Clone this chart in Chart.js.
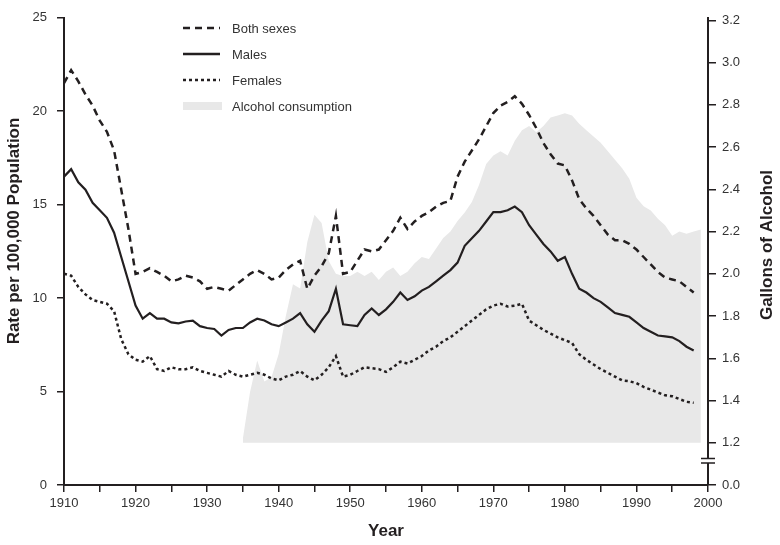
<!DOCTYPE html>
<html>
<head>
<meta charset="utf-8">
<script src="https://cdn.jsdelivr.net/npm/chart.js@4/dist/chart.umd.min.js"></script>
<style>
  html, body { margin: 0; background: #fff; }
  #wrap { width: 780px; height: 545px; }
</style>
</head>
<body>
<div id="wrap"><canvas id="chart" width="780" height="545"></canvas></div>
<script>
// rates per 100,000 population, one value per year
const rateYears = [1910,1911,1912,1913,1914,1915,1916,1917,1918,1919,
  1920,1921,1922,1923,1924,1925,1926,1927,1928,1929,
  1930,1931,1932,1933,1934,1935,1936,1937,1938,1939,
  1940,1941,1942,1943,1944,1945,1946,1947,1948,1949,
  1950,1951,1952,1953,1954,1955,1956,1957,1958,1959,
  1960,1961,1962,1963,1964,1965,1966,1967,1968,1969,
  1970,1971,1972,1973,1974,1975,1976,1977,1978,1979,
  1980,1981,1982,1983,1984,1985,1986,1987,1988,1989,
  1990,1991,1992,1993,1994,1995,1996,1997,1998];

const bothSexes = [21.5,22.2,21.6,20.9,20.3,19.5,18.9,17.9,15.8,13.7,
  11.3,11.4,11.6,11.4,11.2,10.9,11.0,11.2,11.1,10.9,
  10.5,10.6,10.5,10.4,10.7,11.0,11.3,11.5,11.3,11.0,
  11.1,11.5,11.8,12.0,10.5,11.2,11.7,12.4,14.4,11.3,
  11.4,12.0,12.6,12.5,12.6,13.1,13.6,14.3,13.7,14.1,
  14.4,14.6,14.9,15.1,15.2,16.5,17.3,17.9,18.5,19.2,
  19.9,20.3,20.5,20.8,20.4,19.8,19.1,18.3,17.7,17.2,
  17.1,16.3,15.3,14.8,14.4,13.9,13.4,13.1,13.1,12.9,
  12.6,12.2,11.8,11.4,11.1,11.0,10.9,10.6,10.3];

const males = [16.5,16.9,16.2,15.8,15.1,14.7,14.3,13.5,12.2,10.9,
  9.6,8.9,9.2,8.9,8.9,8.7,8.65,8.75,8.8,8.5,
  8.4,8.35,8.0,8.3,8.4,8.4,8.7,8.9,8.8,8.6,
  8.5,8.7,8.9,9.2,8.6,8.2,8.8,9.3,10.5,8.6,
  8.55,8.5,9.1,9.45,9.1,9.4,9.8,10.3,9.9,10.1,
  10.4,10.6,10.9,11.2,11.5,11.9,12.8,13.2,13.6,14.1,
  14.6,14.6,14.7,14.9,14.6,13.9,13.4,12.9,12.5,12.0,
  12.2,11.3,10.5,10.3,10.0,9.8,9.5,9.2,9.1,9.0,
  8.7,8.4,8.2,8.0,7.95,7.9,7.7,7.4,7.2];

const females = [11.3,11.2,10.6,10.2,9.9,9.8,9.7,9.3,7.8,7.0,
  6.7,6.6,6.9,6.2,6.1,6.3,6.2,6.2,6.3,6.1,
  6.0,5.9,5.8,6.1,5.9,5.8,5.9,6.0,5.9,5.7,
  5.6,5.8,5.9,6.1,5.8,5.6,5.9,6.3,6.9,5.8,
  5.9,6.1,6.3,6.25,6.2,6.05,6.3,6.6,6.5,6.7,
  6.9,7.2,7.4,7.7,7.9,8.2,8.5,8.8,9.1,9.4,
  9.6,9.7,9.55,9.6,9.7,8.8,8.55,8.3,8.1,7.9,
  7.75,7.6,7.0,6.7,6.45,6.2,6.0,5.8,5.6,5.55,
  5.45,5.25,5.1,4.95,4.8,4.75,4.6,4.45,4.4];

// gallons of alcohol per capita
const alcoholYears = [1935,1936,1937,1938,1939,1940,1941,1942,1943,1944,
  1945,1946,1947,1948,1949,1950,1951,1952,1953,1954,
  1955,1956,1957,1958,1959,1960,1961,1962,1963,1964,
  1965,1966,1967,1968,1969,1970,1971,1972,1973,1974,
  1975,1976,1977,1978,1979,1980,1981,1982,1983,1984,
  1985,1986,1987,1988,1989,1990,1991,1992,1993,1994,
  1995,1996,1997,1998,1999];

const alcoholGallons = [1.22,1.44,1.59,1.49,1.51,1.62,1.80,1.95,1.93,2.15,
  2.28,2.24,2.06,2.00,1.99,1.99,2.01,1.99,2.01,1.97,
  2.01,2.03,1.99,2.01,2.05,2.08,2.07,2.12,2.17,2.20,
  2.25,2.29,2.34,2.42,2.52,2.56,2.58,2.56,2.63,2.68,
  2.70,2.67,2.70,2.74,2.75,2.76,2.75,2.71,2.68,2.65,
  2.62,2.58,2.54,2.50,2.45,2.36,2.32,2.30,2.26,2.23,
  2.18,2.20,2.19,2.20,2.21];

const rateTicks = [0, 5, 10, 15, 20, 25];
// right axis is broken: the bottom tick (placed at 1.0) is labelled 0.0
const gallonTicks = [1.0, 1.2, 1.4, 1.6, 1.8, 2.0, 2.2, 2.4, 2.6, 2.8, 3.0, 3.2];
const gallonLabels = ['0.0', '1.2', '1.4', '1.6', '1.8', '2.0', '2.2', '2.4', '2.6', '2.8', '3.0', '3.2'];

const ink = '#231f20';
const fam = '"Liberation Sans", Arial, sans-serif';
const tickFont = { family: fam, size: 13 };

function pts(xs, ys) {
  return xs.map((x, i) => ({ x: x, y: ys[i] }));
}

function vtitle(ctx, text, x, y) {
  ctx.save();
  ctx.font = 'bold 17px ' + fam;
  ctx.fillStyle = ink;
  ctx.textAlign = 'center';
  ctx.textBaseline = 'middle';
  ctx.translate(x, y);
  ctx.rotate(-Math.PI / 2);
  ctx.fillText(text, 0, 0);
  ctx.restore();
}

// legend, y axis titles and axis break drawn by hand
const extras = {
  id: 'extras',
  afterDraw(chart) {
    const ctx = chart.ctx;
    const area = chart.chartArea;
    ctx.save();

    // legend
    const rows = [
      { label: 'Both sexes', dash: [7, 5] },
      { label: 'Males', dash: [] },
      { label: 'Females', dash: [3, 3] },
      { label: 'Alcohol consumption', fill: true }
    ];
    ctx.font = '13px ' + fam;
    ctx.textBaseline = 'middle';
    rows.forEach((r, i) => {
      const y = 28 + i * 26;
      if (r.fill) {
        ctx.fillStyle = '#e8e8e8';
        ctx.fillRect(183, y - 4, 39, 8);
      } else {
        ctx.strokeStyle = ink;
        ctx.lineWidth = 2.5;
        ctx.lineCap = 'butt';
        ctx.setLineDash(r.dash);
        ctx.beginPath();
        ctx.moveTo(183, y);
        ctx.lineTo(220, y);
        ctx.stroke();
        ctx.setLineDash([]);
      }
      ctx.fillStyle = '#333';
      ctx.textAlign = 'left';
      ctx.fillText(r.label, 232, y + 1);
    });

    vtitle(ctx, 'Rate per 100,000 Population', 14, 231);
    vtitle(ctx, 'Gallons of Alcohol', 767, 245);

    // axis break on the right axis
    const bx = area.right;
    ctx.fillStyle = '#fff';
    ctx.fillRect(bx - 3, 459, 6, 4);
    ctx.strokeStyle = ink;
    ctx.lineWidth = 1.5;
    ctx.beginPath();
    ctx.moveTo(bx - 7, 458.5); ctx.lineTo(bx + 7, 458.5);
    ctx.moveTo(bx - 7, 463); ctx.lineTo(bx + 7, 463);
    ctx.stroke();
    ctx.restore();
  }
};

new Chart(document.getElementById('chart'), {
  type: 'line',
  data: {
    datasets: [
      {
        label: 'Both sexes',
        data: pts(rateYears, bothSexes),
        borderColor: ink, borderWidth: 2.5, borderDash: [7, 5],
        pointRadius: 0, tension: 0, fill: false, yAxisID: 'y', order: 1
      },
      {
        label: 'Males',
        data: pts(rateYears, males),
        borderColor: ink, borderWidth: 2.2,
        pointRadius: 0, tension: 0, fill: false, yAxisID: 'y', order: 1
      },
      {
        label: 'Females',
        data: pts(rateYears, females),
        borderColor: ink, borderWidth: 2.5, borderDash: [3, 3], borderCapStyle: 'butt',
        pointRadius: 0, tension: 0, fill: false, yAxisID: 'y', order: 1
      },
      {
        label: 'Alcohol consumption',
        data: pts(alcoholYears, alcoholGallons),
        borderWidth: 0, borderColor: 'rgba(0,0,0,0)', backgroundColor: '#e8e8e8',
        pointRadius: 0, tension: 0, fill: { value: 1.2 }, yAxisID: 'y2', order: 5
      }
    ]
  },
  options: {
    responsive: false,
    animation: false,
    layout: { padding: { top: 13, left: 0, right: 0, bottom: 0 } },
    plugins: { legend: { display: false }, tooltip: { enabled: false } },
    scales: {
      x: {
        type: 'linear', position: 'bottom', min: 1910, max: 2000,
        afterBuildTicks: s => {
          s.ticks = [];
          for (let v = 1910; v <= 2000; v += 5) s.ticks.push({ value: v });
        },
        afterFit: s => { s.height = 60; },
        ticks: {
          autoSkip: false, maxRotation: 0, color: '#333', font: tickFont, padding: 4,
          callback: v => (v % 10 === 0 ? String(v) : '')
        },
        grid: { drawOnChartArea: false, drawTicks: true, tickLength: 7, color: ink, lineWidth: 1.5 },
        border: { display: true, color: ink, width: 2 },
        title: {
          display: true, text: 'Year', color: ink,
          font: { family: fam, size: 17, weight: 'bold' },
          padding: { top: 4, bottom: 3 }
        }
      },
      y: {
        position: 'left', min: 0, max: 25,
        afterBuildTicks: s => { s.ticks = rateTicks.map(v => ({ value: v })); },
        afterFit: s => { s.width = 64; },
        ticks: { color: '#333', font: tickFont, padding: 10 },
        grid: { drawOnChartArea: false, drawTicks: true, tickLength: 7, color: ink, lineWidth: 1.5 },
        border: { display: true, color: ink, width: 2 }
      },
      y2: {
        position: 'right', min: 1.0, max: 3.212,
        afterBuildTicks: s => { s.ticks = gallonTicks.map(v => ({ value: v })); },
        afterFit: s => { s.width = 72; },
        ticks: {
          color: '#333', font: tickFont, padding: 6,
          callback: (v, i) => gallonLabels[i]
        },
        grid: { drawOnChartArea: false, drawTicks: true, tickLength: 8, color: ink, lineWidth: 1.5 },
        border: { display: true, color: ink, width: 2 }
      }
    }
  },
  plugins: [extras]
});
</script>
</body>
</html>
